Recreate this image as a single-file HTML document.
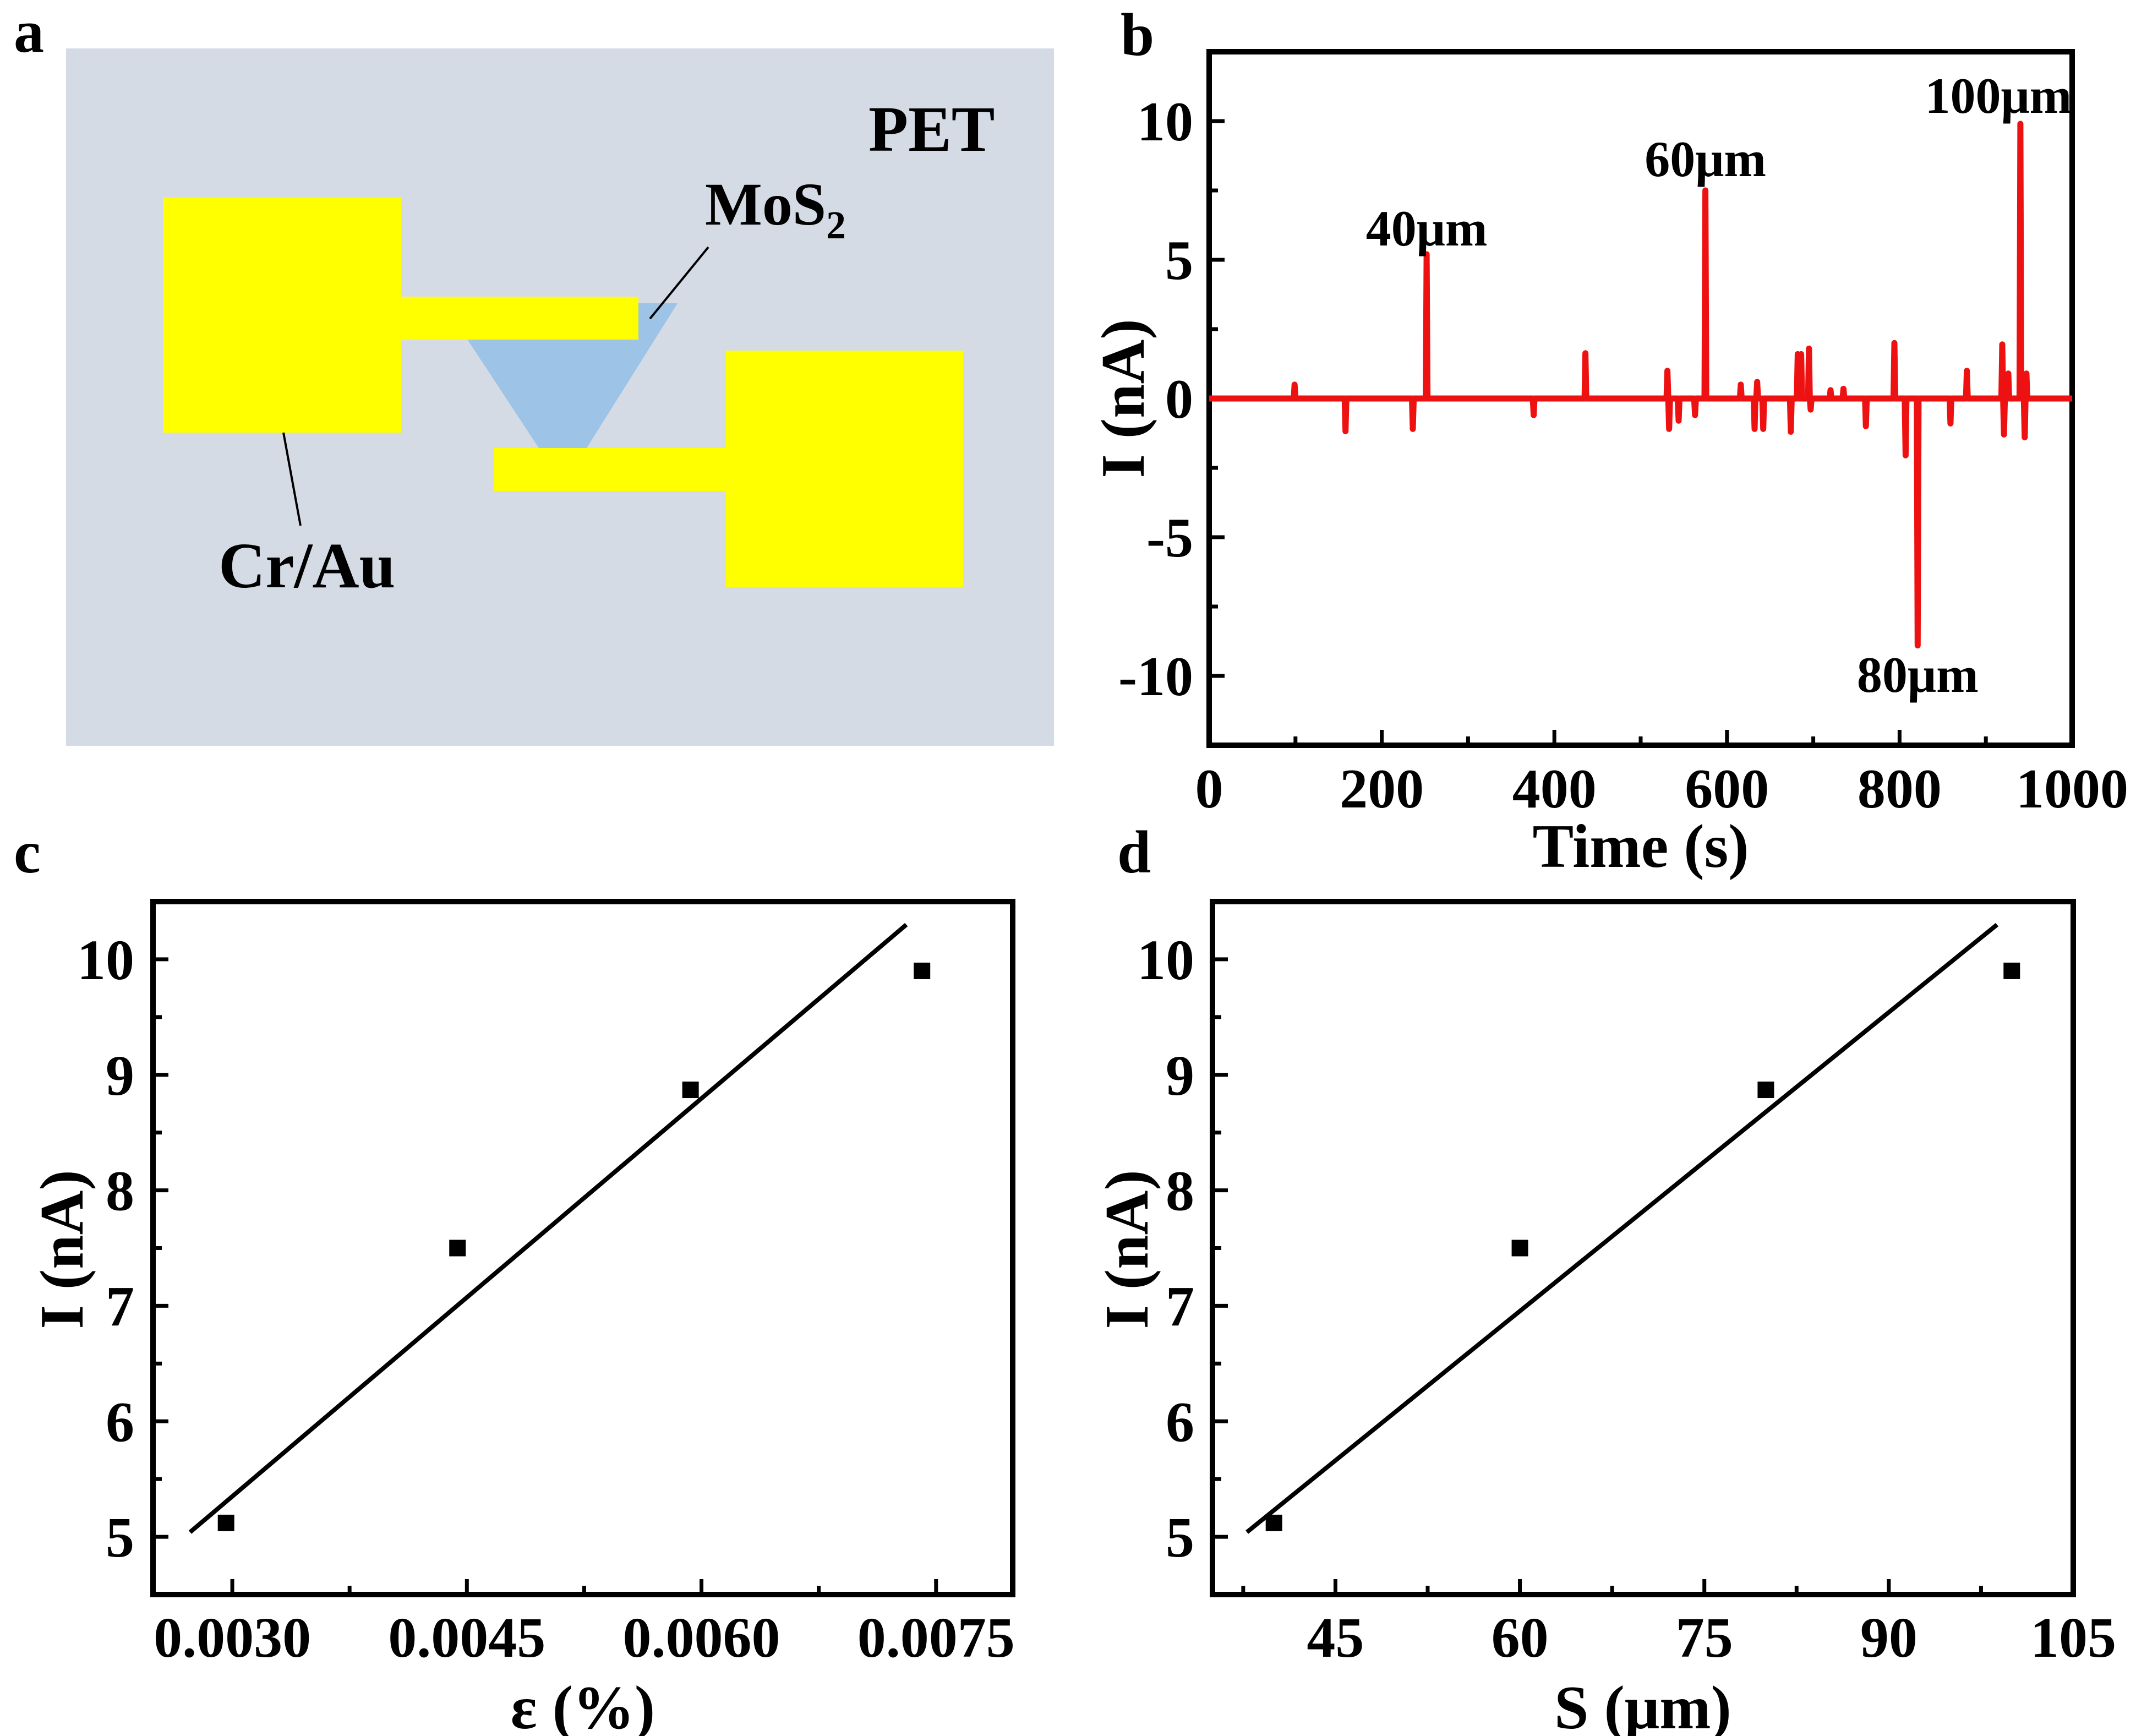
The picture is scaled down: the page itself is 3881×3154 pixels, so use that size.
<!DOCTYPE html>
<html><head><meta charset="utf-8"><style>
html,body{margin:0;padding:0;background:#fff;}
svg{display:block;font-family:"Liberation Serif","DejaVu Serif",serif;font-weight:bold;}
</style></head><body>
<svg id="fig" width="3881" height="3154" viewBox="0 0 3881 3154" xmlns="http://www.w3.org/2000/svg">
<rect width="3881" height="3154" fill="#fff"/>
<g>
<text x="25" y="94" font-size="110">a</text>
<rect x="120" y="88" width="1795" height="1267" fill="#d5dbe5"/>
<polygon points="806,551 1231,551 1066,814 979,814" fill="#9dc3e6"/>
<rect x="296" y="359" width="433" height="427" fill="#ffff00"/>
<rect x="729" y="539" width="431" height="78" fill="#ffff00"/>
<rect x="898" y="814" width="421" height="78" fill="#ffff00"/>
<rect x="1319" y="637" width="431" height="429" fill="#ffff00"/>
<line x1="1287" y1="449" x2="1181" y2="579" stroke="#000" stroke-width="4"/>
<line x1="515" y1="786" x2="546" y2="955" stroke="#000" stroke-width="4"/>
<text x="1578" y="274" font-size="118">PET</text>
<text x="1281" y="408" font-size="110">MoS<tspan font-size="72" dy="25">2</tspan></text>
<text x="397" y="1067" font-size="118">Cr/Au</text>
</g>
<g id="pb"></g>
<g id="pc"></g>
<g id="pd"></g>
</svg>
<script>
// Panel b data
const bTimeTicks = [0, 200, 400, 600, 800, 1000];
const bCurrentTicks = [-10, -5, 0, 5, 10];
const spikeTimes = [99, 158, 236, 252, 376, 436, 531, 533, 544, 563, 575, 616, 632, 635, 642, 674, 682, 686, 695, 697, 720, 735, 761, 794, 807, 821, 859, 878, 919, 921, 926, 940, 945, 947];
const spikeValues = [0.5, -1.18, -1.1, 5.2, -0.6, 1.63, 1.0, -1.1, -0.8, -0.6, 7.5, 0.5, -1.1, 0.6, -1.1, -1.2, 1.6, 1.6, 1.8, -0.4, 0.3, 0.35, -1.0, 2.0, -2.05, -8.9, -0.9, 1.0, 1.95, -1.3, 0.9, 9.9, -1.4, 0.9];
const bAnnotTimes = [252, 575, 821, 940];
const bAnnotLabels = ["40μm", "60μm", "80μm", "100μm"];
// Panel c data
const strainTicks = [0.003, 0.0045, 0.006, 0.0075];
const strainTickLabels = ["0.0030", "0.0045", "0.0060", "0.0075"];
const strainValues = [0.00296, 0.00444, 0.00593, 0.00741];
const currentValues = [5.12, 7.5, 8.87, 9.9];
const fitStrainEnds = [0.00273, 0.00731];
const fitCurrentEnds = [5.04, 10.3];
const cdCurrentTicks = [5, 6, 7, 8, 9, 10];
// Panel d data
const dispTicks = [45, 60, 75, 90, 105];
const dispValues = [40, 60, 80, 100];
const fitDispEnds = [37.8, 98.8];

const NS = "http://www.w3.org/2000/svg";
function mk(parent, tag, attrs, text) {
  const e = document.createElementNS(NS, tag);
  for (const k in attrs) e.setAttribute(k, attrs[k]);
  if (text !== undefined) e.textContent = text;
  parent.appendChild(e);
  return e;
}
function lin(d0, d1, r0, r1) { return v => r0 + (v - d0) / (d1 - d0) * (r1 - r0); }

function frame(g, x0, y0, x1, y1, xs, ys, xMaj, xMin, yMaj, yMin) {
  const f = mk(g, "rect", {x: x0, y: y0, width: x1 - x0, height: y1 - y0, fill: "none", stroke: "#000", "stroke-width": 10});
  
  
  xMaj.forEach(v => { const t = mk(g, "line", {x1: xs(v), x2: xs(v), y1: y1, y2: y1 - 28, stroke: "#000", "stroke-width": 7});
    
     });
  xMin.forEach(v => { const t = mk(g, "line", {x1: xs(v), x2: xs(v), y1: y1, y2: y1 - 16, stroke: "#000", "stroke-width": 7});
    
     });
  yMaj.forEach(v => { const t = mk(g, "line", {x1: x0, x2: x0 + 28, y1: ys(v), y2: ys(v), stroke: "#000", "stroke-width": 7});
    
     });
  yMin.forEach(v => { const t = mk(g, "line", {x1: x0, x2: x0 + 16, y1: ys(v), y2: ys(v), stroke: "#000", "stroke-width": 7});
    
     });
}

// ---- Panel b ----
(function () {
  const g = document.getElementById("pb");
  const X0 = 2197, X1 = 3765, Y0 = 94, Y1 = 1354;
  const xs = lin(0, 1000, X0, X1), ys = lin(-12.5, 12.5, Y1, Y0);
  const xMin = bTimeTicks.slice(0, -1).map(v => v + 100);
  const yMin = [-12.5, -7.5, -2.5, 2.5, 7.5];
  frame(g, X0, Y0, X1, Y1, xs, ys, bTimeTicks, xMin, bCurrentTicks, yMin);
  let pts = [[0, 0]];
  spikeTimes.forEach((t, i) => { pts.push([t - 1, 0], [t, spikeValues[i]], [t + 1, 0]); });
  pts.push([1000, 0]);
  const p = mk(g, "polyline", {points: pts.map(q => xs(q[0]).toFixed(1) + "," + ys(q[1]).toFixed(1)).join(" "), fill: "none", stroke: "#ee1111", "stroke-width": 11, "stroke-linejoin": "round"});
  
  
  bTimeTicks.forEach(v => { const t = mk(g, "text", {x: xs(v), y: 1467, "font-size": 102, "text-anchor": "middle"}, String(v));
    
     });
  bCurrentTicks.forEach(v => { const t = mk(g, "text", {x: 2168, y: ys(v) + 35, "font-size": 102, "text-anchor": "end"}, String(v));
    
     });
  const annY = [446, 320, 1257, 205];
  bAnnotTimes.forEach((v, i) => { const t = mk(g, "text", {x: xs(v) + (i === 3 ? -40 : 0), y: annY[i], "font-size": 92, "text-anchor": "middle"}, bAnnotLabels[i]);
    
     });
  const xt = mk(g, "text", {x: 2981, y: 1575, "font-size": 112, "text-anchor": "middle"}, "Time (s)");
  
  
  const yt = mk(g, "text", {x: 0, y: 0, "font-size": 112, "text-anchor": "middle", transform: "translate(2078,724) rotate(-90)"}, "I (nA)");
  
  
  const lb = mk(g, "text", {x: 2036, y: 100, "font-size": 110}, "b");
  
  
})();

// ---- Panels c & d ----
function scatterPanel(gid, X0, X1, xd0, xd1, xTicks, xTickLabels, xMin, xVals, fitX, xTitle, yTitleX, yTickX, letter, letterX) {
  const g = document.getElementById(gid);
  const Y0 = 1638, Y1 = 2897;
  const xs = lin(xd0, xd1, X0, X1), ys = lin(4.5, 10.5, Y1, Y0);
  frame(g, X0, Y0, X1, Y1, xs, ys, xTicks, xMin, cdCurrentTicks, [5.5, 6.5, 7.5, 8.5, 9.5]);
  const fl = mk(g, "line", {x1: xs(fitX[0]), y1: ys(fitCurrentEnds[0]), x2: xs(fitX[1]), y2: ys(fitCurrentEnds[1]), stroke: "#000", "stroke-width": 8});
  
  
  xVals.forEach((v, i) => { const r = mk(g, "rect", {x: xs(v) - 15, y: ys(currentValues[i]) - 15, width: 30, height: 30, fill: "#000"});
    
     });
  xTicks.forEach((v, i) => { const t = mk(g, "text", {x: xs(v), y: 3010, "font-size": 104, "text-anchor": "middle"}, xTickLabels[i]);
    
     });
  cdCurrentTicks.forEach(v => { const t = mk(g, "text", {x: yTickX, y: ys(v) + 36, "font-size": 104, "text-anchor": "end"}, String(v));
    
     });
  const xt = mk(g, "text", {x: (X0 + X1) / 2, y: 3140, "font-size": 112, "text-anchor": "middle"}, xTitle);
  
  
  const yt = mk(g, "text", {x: 0, y: 0, "font-size": 112, "text-anchor": "middle", transform: "translate(" + yTitleX + ",2270) rotate(-90)"}, "I (nA)");
  
  
  const lb = mk(g, "text", {x: letterX, y: 1585, "font-size": 110}, letter);
  
  
}
scatterPanel("pc", 278, 1840, 0.002493, 0.00799, strainTicks, strainTickLabels, [0.00375, 0.00525, 0.00675], strainValues, fitStrainEnds, "ε (%)", 150, 244, "c", 25);
scatterPanel("pd", 2203, 3767, 35, 105, dispTicks, dispTicks.map(String), [37.5, 52.5, 67.5, 82.5, 97.5], dispValues, fitDispEnds, "S (μm)", 2085, 2170, "d", 2030);
</script>
</body></html>
